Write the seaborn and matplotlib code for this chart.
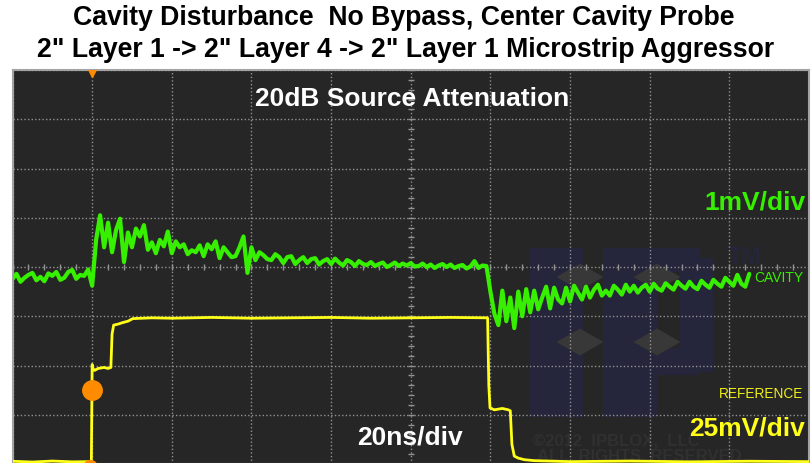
import numpy as np
import pandas as pd
import matplotlib
matplotlib.use('Agg')
import matplotlib.pyplot as plt
import seaborn as sns
from matplotlib.patches import Rectangle, Polygon

# scope settings
title_1 = 'Cavity Disturbance  No Bypass, Center Cavity Probe'
title_2 = '2" Layer 1 -> 2" Layer 4 -> 2" Layer 1 Microstrip Aggressor'
time_per_div = '20ns/div'
cavity_scale = '1mV/div'
ref_scale = '25mV/div'

# trigger marker (ns, mV on reference channel)
trigger_t = -80
trigger_level = -62.5

# CAVITY channel, one sample per ns from -100 ns to 85 ns, values in mV
cavity_t = np.arange(-100, 86, 1.0)
cavity_mv = [
    -0.24, -0.14, -0.30, -0.22, -0.16, -0.12, -0.27, -0.20, -0.29, -0.13,
    -0.18, -0.10, -0.26, -0.22, -0.10, -0.06, -0.24, -0.16, -0.18, -0.05,
    -0.38, 0.55, 1.05, 0.40, 0.90, 0.30, 0.75, 0.98, 0.10, 0.70,
    0.40, 0.78, 0.62, 0.85, 0.35, 0.50, 0.28, 0.55, 0.42, 0.72,
    0.28, 0.52, 0.40, 0.46, 0.26, 0.34, 0.30, 0.44, 0.22, 0.46,
    0.36, 0.52, 0.18, 0.40, 0.30, 0.20, 0.22, 0.40, 0.62, -0.12,
    0.40, 0.14, 0.30, 0.24, 0.16, 0.14, 0.26, 0.20, 0.08, 0.20,
    0.22, 0.06, 0.14, 0.20, 0.08, 0.16, 0.18, 0.05, 0.12, 0.16,
    0.06, 0.17, 0.09, 0.03, 0.14, 0.10, 0.02, 0.12, 0.06, 0.04,
    0.10, 0.02, 0.06, 0.09, 0.00, 0.04, 0.09, 0.02, 0.07, 0.03,
    0.08, 0.01, 0.02, 0.07, 0.00, 0.05, -0.02, 0.03, 0.06, 0.00,
    0.05, -0.02, 0.02, 0.04, -0.03, 0.01, 0.12, -0.02, 0.03, 0.02,
    -0.50, -0.95, -1.18, -0.48, -1.10, -0.62, -1.24, -0.50, -1.00, -0.45,
    -0.92, -0.48, -0.86, -0.62, -0.40, -0.84, -0.42, -0.66, -0.74, -0.42,
    -0.70, -0.38, -0.52, -0.66, -0.40, -0.62, -0.46, -0.36, -0.58, -0.48,
    -0.58, -0.38, -0.46, -0.56, -0.36, -0.50, -0.38, -0.52, -0.42, -0.36,
    -0.50, -0.34, -0.44, -0.48, -0.33, -0.40, -0.46, -0.30, -0.38, -0.44,
    -0.30, -0.40, -0.45, -0.28, -0.36, -0.42, -0.26, -0.34, -0.40, -0.22,
    -0.30, -0.38, -0.16, -0.34, -0.40, -0.14,
]

# REFERENCE channel breakpoints (ns, mV)
ref_t = [-100, -95, -90, -85, -80.2, -80.0, -79.8, -79.4, -78.5, -77, -76,
         -75.3, -75.0, -74.6, -73.5, -72.3, -71, -69.8, -65, -60, -50, -40,
         -30, -20, -10, 0, 10, 19.3, 19.6, 19.9, 21, 23, 24.5, 25.0, 25.4,
         26.0, 27.0, 28.5, 31, 40, 55, 70, 85, 100]
ref_mv = [-98.6, -99.0, -98.5, -98.9, -98.8, -49.5, -51.5, -52.5, -51.5,
          -51.0, -51.5, -51.0, -34.0, -29.5, -29.0, -28.2, -27.5, -26.2,
          -25.8, -26.0, -25.6, -26.0, -25.8, -25.6, -26.0, -25.8, -25.6,
          -25.8, -60.0, -71.5, -72.5, -71.8, -72.5, -73.0, -90.0, -96.0,
          -97.0, -97.8, -98.3, -98.8, -98.5, -98.9, -98.6, -98.8]

cavity_df = pd.DataFrame({'t': cavity_t, 'mv': cavity_mv})
ref_df = pd.DataFrame({'t': ref_t, 'mv': ref_mv})

sns.set_theme(style='dark')
plt.rcParams['font.family'] = ['Liberation Sans', 'DejaVu Sans']

green = '#36f000'
yellow = '#ffff1a'
orange = '#ff8c00'
gridc = '#929292'

fig = plt.figure(figsize=(8.11, 4.63), dpi=100, facecolor='white')
ax = fig.add_axes([12.5 / 811, -1 / 463, 796.5 / 811, 394 / 463])
ax.set_facecolor('#262626')
ax.set_xlim(-100, 100)
ax.set_ylim(-100, 100)
ax.set_xticks(np.arange(-100, 101, 20))
ax.set_yticks(np.arange(-100, 101, 25))
ax.tick_params(length=0, labelleft=False, labelbottom=False)
ax.grid(True, color=gridc, linestyle=(0, (1, 1.6)), linewidth=1)
ax.set_axisbelow(True)
for s in ax.spines.values():
    s.set_color('#a3a3a3')
    s.set_linewidth(1.5)

# watermark logo
navy = '#25253b'
for r in [(0.650, 0.119, 0.066, 0.429), (0.741, 0.119, 0.068, 0.429),
          (0.741, 0.487, 0.122, 0.061), (0.838, 0.234, 0.042, 0.289),
          (0.741, 0.226, 0.122, 0.068)]:
    ax.add_patch(Rectangle(r[:2], r[2], r[3], transform=ax.transAxes,
                           color=navy, zorder=0.2, lw=0))
for cx, cy in [(0.7124, 0.4746), (0.8092, 0.4746), (0.7124, 0.3096), (0.8092, 0.3096)]:
    ax.add_patch(Polygon([(cx - 0.0295, cy), (cx, cy + 0.0343), (cx + 0.0295, cy),
                          (cx, cy - 0.0343)], transform=ax.transAxes,
                         color='#383838', zorder=0.3, lw=0))
ax.text(0.9196, 0.523, 'TM', transform=ax.transAxes, color=navy, fontsize=17,
        fontweight='bold', ha='center', va='center', zorder=0.3)
ax.text(0.6535, 0.058, '©2012  IPBLOX,  LLC', transform=ax.transAxes, color='#303030',
        fontsize=12, fontweight='bold', ha='left', va='center', zorder=0.3)
ax.text(0.6585, 0.020, 'ALL  RIGHTS  RESERVED', transform=ax.transAxes, color='#303030',
        fontsize=12, fontweight='bold', ha='left', va='center', zorder=0.3)

# centre graticule ticks
minor_x = np.arange(-100, 101, 4)
minor_y = np.arange(-100, 101, 5)
ax.plot(minor_x, np.zeros_like(minor_x), ls='none', marker='|', ms=5, mew=1, color=gridc, zorder=0.6)
ax.plot(np.zeros_like(minor_y), minor_y, ls='none', marker='_', ms=5, mew=1, color=gridc, zorder=0.6)

# reference trace (yellow, 25 mV/div)
sns.lineplot(data=ref_df, x='t', y='mv', ax=ax, color=yellow, lw=2,
             sort=False, estimator=None, zorder=3)
ax.plot([trigger_t], [trigger_level], 'o', color=orange, ms=14, zorder=5)
ax.plot([trigger_t], [100], 'v', color=orange, ms=10, zorder=5)
ax.plot([trigger_t - 0.5], [-101.5], 'o', color=orange, ms=10, zorder=5)
ax.set_xlabel('')
ax.set_ylabel('')

# cavity trace (green, 1 mV/div)
ax2 = ax.twinx()
ax2.set_ylim(-4, 4)
ax2.patch.set_visible(False)
for s in ax2.spines.values():
    s.set_visible(False)
sns.lineplot(data=cavity_df, x='t', y='mv', ax=ax2, color=green, lw=3,
             sort=False, estimator=None, zorder=4)
ax2.set_yticks([])
ax2.set_ylabel('')
ax2.set_xlabel('')
ax2.grid(False)

# labels
fig.text(404 / 811, 1 - 18 / 463, title_1, ha='center', va='center',
         fontsize=19.2, fontweight='bold', color='black')
fig.text(405.5 / 811, 1 - 50 / 463, title_2, ha='center', va='center',
         fontsize=19.2, fontweight='bold', color='black')
fig.text(412 / 811, 1 - 98.5 / 463, '20dB Source Attenuation', ha='center', va='center',
         fontsize=19, fontweight='bold', color='white')
fig.text(805 / 811, 1 - 203 / 463, cavity_scale, ha='right', va='center',
         fontsize=19, fontweight='bold', color=green)
fig.text(805 / 811, 1 - 429 / 463, ref_scale, ha='right', va='center',
         fontsize=19, fontweight='bold', color=yellow)
fig.text(410 / 811, 1 - 437.5 / 463, time_per_div, ha='center', va='center',
         fontsize=19, fontweight='bold', color='white')
fig.text(803 / 811, 1 - 278 / 463, 'CAVITY', ha='right', va='center',
         fontsize=10, color=green)
fig.text(803 / 811, 1 - 394 / 463, 'REFERENCE', ha='right', va='center',
         fontsize=9.8, color='#f0f01a')

fig.savefig('out.png', dpi=100, facecolor='white')
